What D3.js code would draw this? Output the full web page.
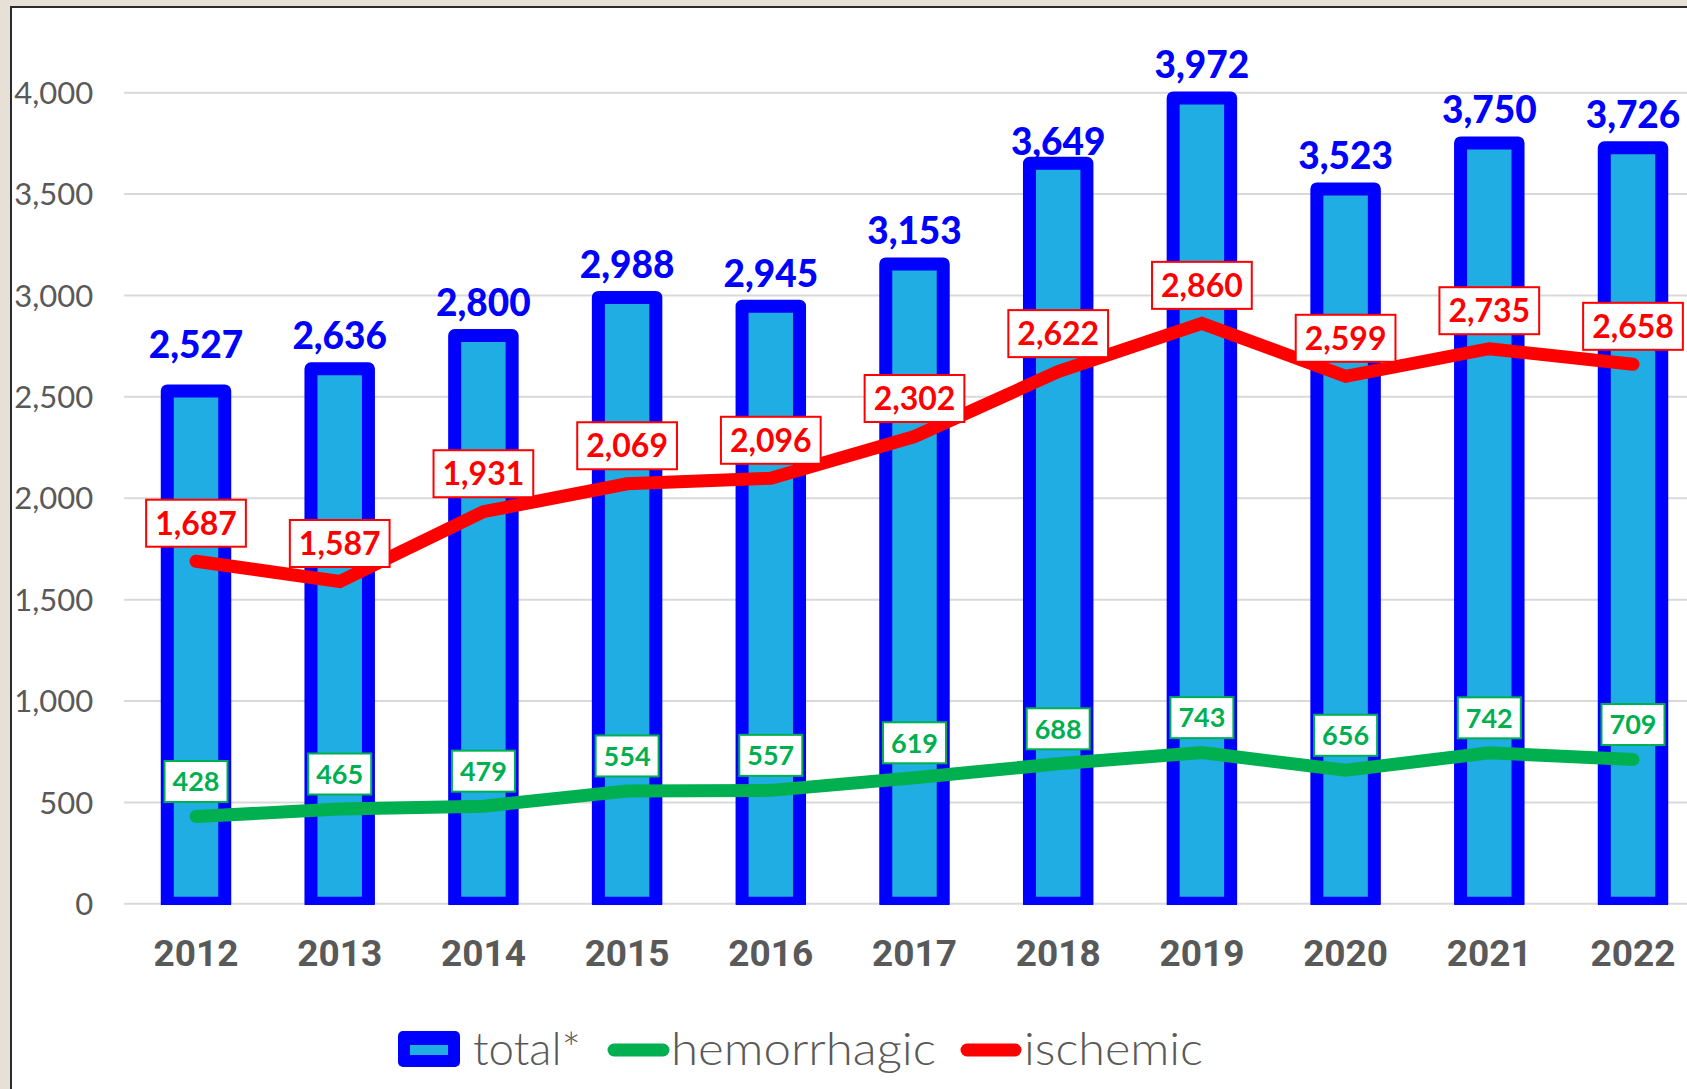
<!DOCTYPE html>
<html>
<head>
<meta charset="utf-8">
<script src="https://cdn.jsdelivr.net/npm/d3@7"></script>
<style>
  html, body { margin: 0; padding: 0; background: #e6e0d6; overflow: hidden; }
  svg { display: block; }
</style>
</head>
<body>
<svg id="chart" width="1687" height="1089"></svg>
<script>
// ---- data ----
const years = ['2012','2013','2014','2015','2016','2017','2018','2019','2020','2021','2022'];
const totalValues = [2527, 2636, 2800, 2988, 2945, 3153, 3649, 3972, 3523, 3750, 3726];
const ischemicValues = [1687, 1587, 1931, 2069, 2096, 2302, 2622, 2860, 2599, 2735, 2658];
const hemorrhagicValues = [428, 465, 479, 554, 557, 619, 688, 743, 656, 742, 709];
const yTicks = [0, 500, 1000, 1500, 2000, 2500, 3000, 3500, 4000];
const legendLabels = ['total*', 'hemorrhagic', 'ischemic'];

// ---- layout (not data) ----
const totalLabelNudge = [-13, 0, 0, 0, 0, 0, 11, 0, 0, 0, 0];
const W = 1687, H = 1089;
const plotLeft = 124.15, plotRight = 1704.85, plotTop = 92.2, plotBottom = 903.3;
const BLUE = '#0000ff', LIGHT = '#1fade3', RED = '#ff0000', GREEN = '#00b050', GRAY = '#595959';

const svg = d3.select('#chart');

svg.append('rect').attr('x', 0).attr('y', 0).attr('width', W).attr('height', H).attr('fill', '#e6e0d6');
svg.append('rect').attr('x', 11).attr('y', 7).attr('width', W + 20).attr('height', H + 20)
  .attr('fill', '#ffffff').attr('stroke', '#2b2b2b').attr('stroke-width', 2);

const x = d3.scaleBand().domain(years).range([plotLeft, plotRight]).paddingInner(0.6).paddingOuter(0.3);
const y = d3.scaleLinear().domain([0, 4000]).range([plotBottom, plotTop]);
const cx = d => x(d) + x.bandwidth() / 2;

// y axis with gridlines
const yAxis = svg.append('g').attr('transform', `translate(${plotLeft},0)`)
  .call(d3.axisLeft(y).tickValues(yTicks).tickSize(-(plotRight - plotLeft)).tickPadding(31).tickFormat(d3.format(',')));
yAxis.select('.domain').remove();
yAxis.selectAll('.tick line').attr('stroke', '#d9d9d9').attr('stroke-width', 2);
yAxis.selectAll('.tick text').attr('fill', GRAY).attr('font-family', 'Lato, sans-serif')
  .attr('font-size', 31).attr('font-weight', 400).attr('dy', '0.36em');

// x axis
const xAxis = svg.append('g').attr('transform', `translate(0,${plotBottom})`)
  .call(d3.axisBottom(x).tickSize(0).tickPadding(0));
xAxis.select('.domain').remove();
xAxis.selectAll('.tick text').attr('fill', GRAY).attr('font-family', 'Roboto, sans-serif')
  .attr('font-size', 37).attr('font-weight', 700).attr('y', 63).attr('dy', 0);

// total labels (under bars)
svg.append('g').selectAll('text').data(years).join('text')
  .attr('x', d => cx(d))
  .attr('y', (d, i) => y(totalValues[i]) - 19.5 + totalLabelNudge[i])
  .attr('text-anchor', 'middle')
  .attr('font-family', 'Lato, sans-serif').attr('font-weight', 900).attr('font-size', 37)
  .attr('fill', BLUE)
  .text((d, i) => d3.format(',')(totalValues[i]));

// bars
svg.append('clipPath').attr('id', 'barclip').append('rect')
  .attr('x', 0).attr('y', 0).attr('width', W).attr('height', plotBottom + 1.7);
svg.append('g').attr('clip-path', 'url(#barclip)').selectAll('rect').data(years).join('rect')
  .attr('x', d => x(d)).attr('width', x.bandwidth())
  .attr('y', (d, i) => y(totalValues[i]))
  .attr('height', (d, i) => y(0) - y(totalValues[i]))
  .attr('fill', LIGHT).attr('stroke', BLUE).attr('stroke-width', 13).attr('stroke-linejoin', 'round');

// lines
const lineGen = vals => d3.line().x(d => cx(d)).y((d, i) => y(vals[i]))(years);
svg.append('path').attr('d', lineGen(hemorrhagicValues)).attr('fill', 'none')
  .attr('stroke', GREEN).attr('stroke-width', 13).attr('stroke-linecap', 'round').attr('stroke-linejoin', 'miter');
svg.append('path').attr('d', lineGen(ischemicValues)).attr('fill', 'none')
  .attr('stroke', RED).attr('stroke-width', 13).attr('stroke-linecap', 'round').attr('stroke-linejoin', 'miter');

// boxed labels
function boxedLabels(vals, color, fontSize, boxH, above, pad) {
  const g = svg.append('g');
  years.forEach((d, i) => {
    const cy = y(vals[i]) - above;
    const grp = g.append('g');
    const rect = grp.append('rect');
    const t = grp.append('text')
      .attr('x', cx(d)).attr('y', cy + fontSize * 0.36)
      .attr('text-anchor', 'middle')
      .attr('font-family', 'Lato, sans-serif').attr('font-weight', 700).attr('font-size', fontSize)
      .attr('fill', color)
      .text(d3.format(',')(vals[i]));
    const w = t.node().getComputedTextLength() + pad * 2;
    rect.attr('x', cx(d) - w / 2).attr('y', cy - boxH / 2).attr('width', w).attr('height', boxH)
      .attr('fill', '#ffffff').attr('stroke', color).attr('stroke-width', 2);
  });
}
boxedLabels(ischemicValues, RED, 32, 47, 38, 9);
boxedLabels(hemorrhagicValues, GREEN, 27, 41, 35, 8);

// legend
const lg = svg.append('g');
lg.append('rect').attr('x', 398).attr('y', 1031).attr('width', 62).attr('height', 36).attr('rx', 5).attr('fill', BLUE);
lg.append('rect').attr('x', 410).attr('y', 1045).attr('width', 38).attr('height', 10).attr('fill', LIGHT);
lg.append('line').attr('x1', 614).attr('x2', 663).attr('y1', 1050).attr('y2', 1050)
  .attr('stroke', GREEN).attr('stroke-width', 13).attr('stroke-linecap', 'round');
lg.append('line').attr('x1', 967).attr('x2', 1015).attr('y1', 1050).attr('y2', 1050)
  .attr('stroke', RED).attr('stroke-width', 13).attr('stroke-linecap', 'round');
const legendPos = [[473, 108], [671, 265], [1024, 179]];
legendLabels.forEach((s, i) => {
  lg.append('text').attr('x', legendPos[i][0]).attr('y', 1065)
    .attr('font-family', 'Lato, sans-serif').attr('font-weight', 300).attr('font-size', 45)
    .attr('fill', GRAY).attr('textLength', legendPos[i][1]).attr('lengthAdjust', 'spacingAndGlyphs')
    .text(s);
});
</script>
</body>
</html>
